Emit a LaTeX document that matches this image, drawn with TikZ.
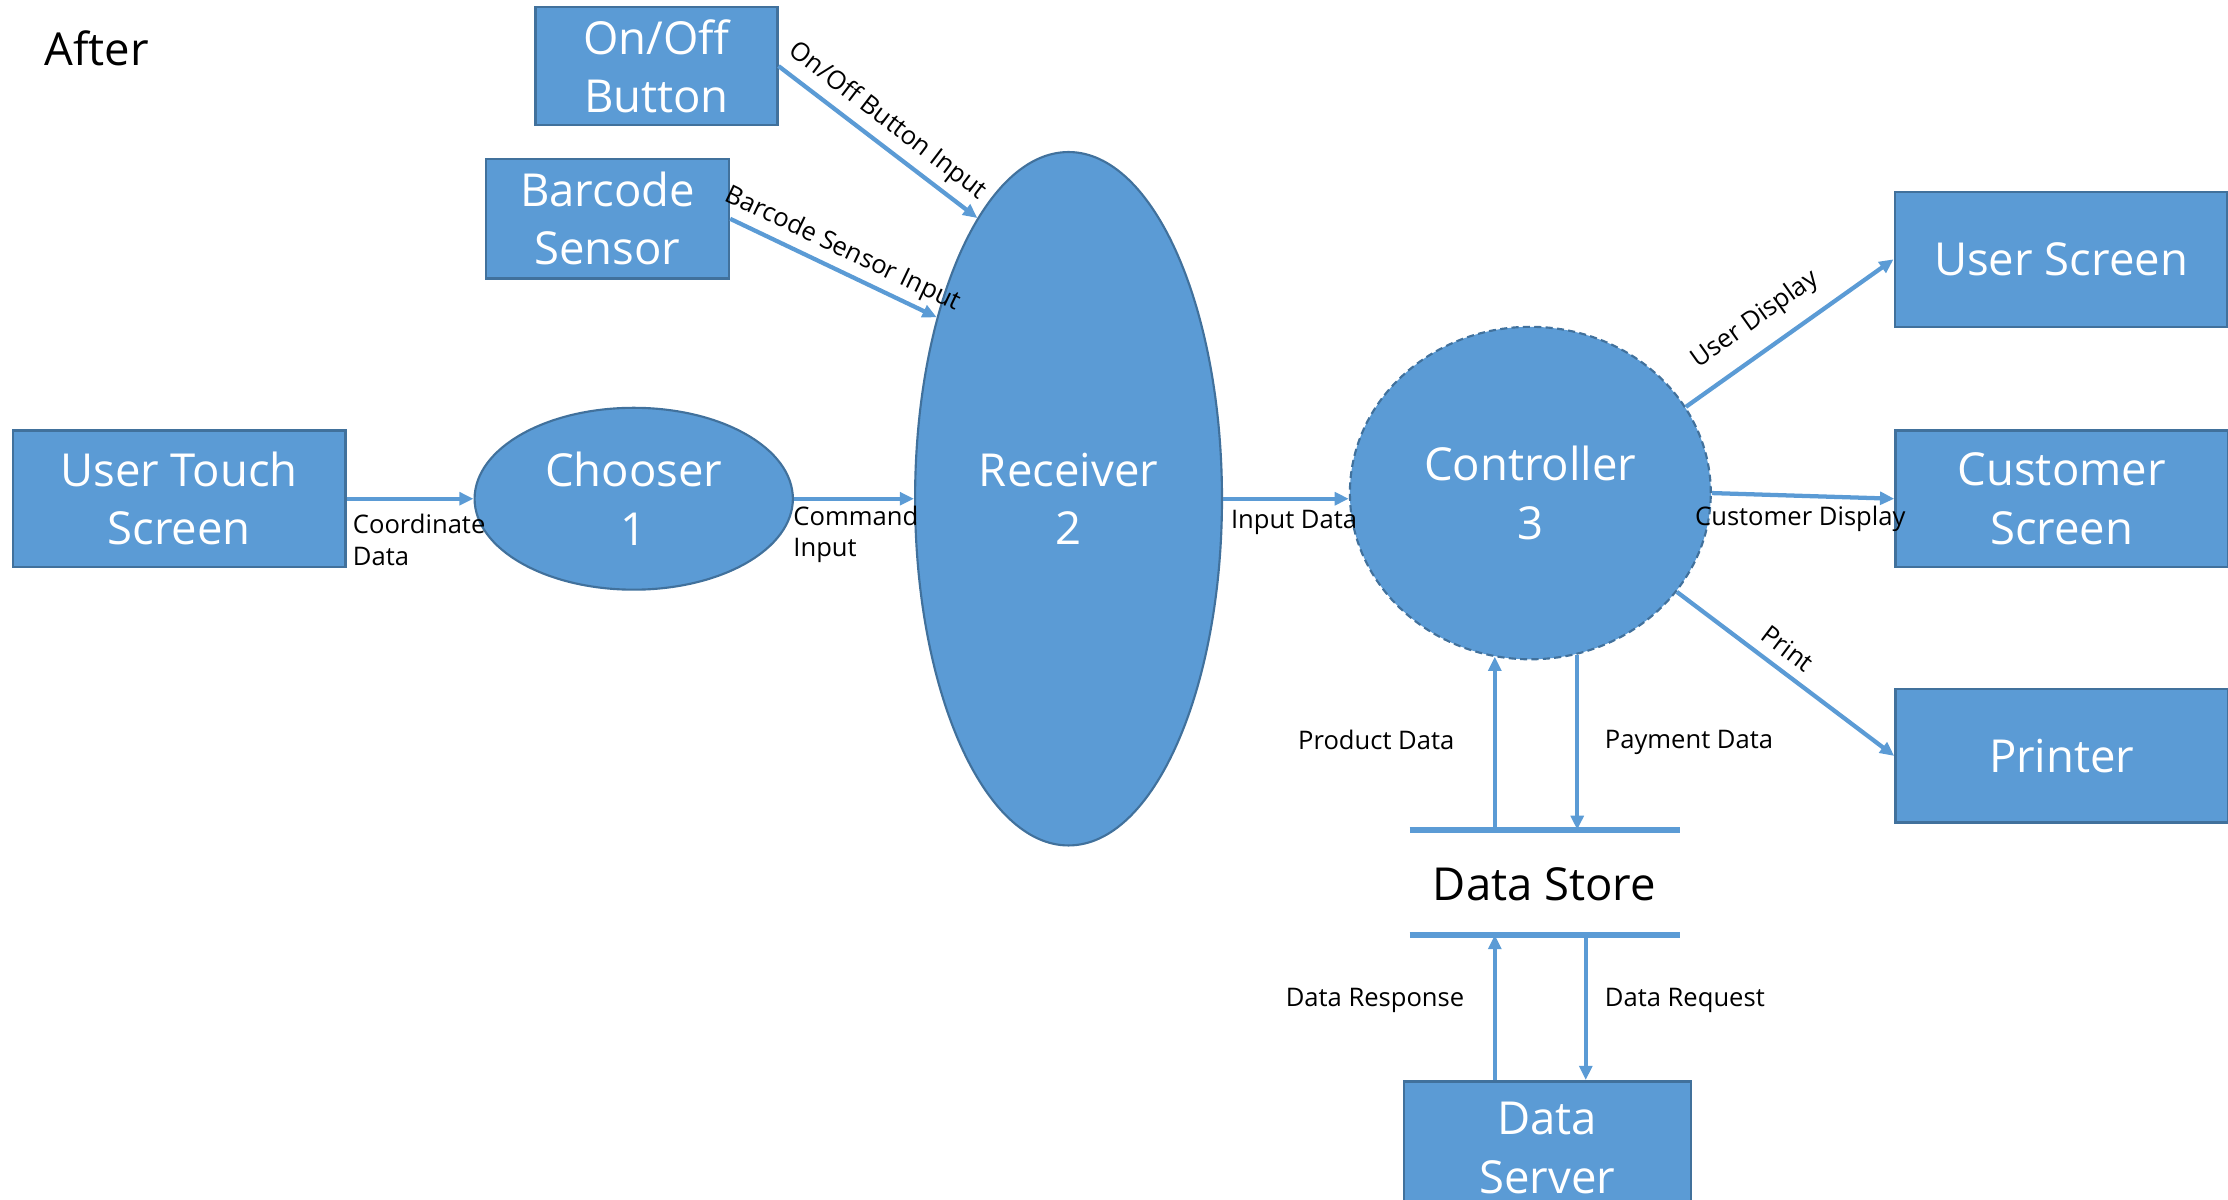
\documentclass[tikz,border=0pt]{standalone}
\usepackage{fontspec}
\setmainfont{Open Sans}
\usetikzlibrary{arrows.meta,shapes.geometric}
\definecolor{fillblue}{HTML}{5B9BD5}
\definecolor{edgeblue}{HTML}{41719C}
\definecolor{arrowblue}{HTML}{5B9BD5}
\begin{document}
\begin{tikzpicture}[x=0.5pt,y=-0.5pt,
  ent/.style={rectangle,draw=edgeblue,fill=fillblue,line width=0.9pt,text=white,
    font=\fontsize{16}{20.5}\selectfont,align=center,inner sep=0pt},
  proc/.style={ellipse,draw=edgeblue,fill=fillblue,line width=0.75pt,text=white,
    font=\fontsize{16}{20.5}\selectfont,align=center,inner sep=0pt},
  flow/.style={draw=arrowblue,line width=1.5pt,-{Triangle[length=5pt,width=4.5pt]}},
  storeline/.style={draw=arrowblue,line width=2pt},
  lbl/.style={font=\fontsize{9}{11}\selectfont,text=black,inner sep=1pt},
]
\useasboundingbox (0,0) rectangle (1568,844.5);
\clip (0,0) rectangle (1568,844.5);

\node[anchor=west,font=\fontsize{16}{20}\selectfont,inner sep=0pt] (after) at (31,34) {After};

\node[ent,minimum width=85pt,minimum height=41.5pt] (onoff) at (462,46.5) {On/Off\\Button};
\node[ent,minimum width=85.5pt,minimum height=42pt] (barcode) at (427.5,154) {Barcode\\Sensor};
\node[ent,minimum width=117pt,minimum height=48pt] (uts) at (126,351) {User Touch\\Screen};
\node[proc,minimum width=112pt,minimum height=64pt] (chooser) at (446,351) {Chooser\\1};
\node[proc,minimum width=108pt,minimum height=244pt] (recv) at (752,351) {Receiver\\2};
\node[proc,dash pattern=on 2.5pt off 1.5pt,minimum width=127pt,minimum height=117pt] (ctrl) at (1077,347) {Controller\\3};
\node[ent,minimum width=117pt,minimum height=47.5pt] (usrscr) at (1450.5,182.5) {User Screen};
\node[ent,minimum width=117pt,minimum height=48pt] (custscr) at (1451,351) {Customer\\Screen};
\node[ent,minimum width=117pt,minimum height=47pt] (printer) at (1451,532) {Printer};
\node[ent,minimum width=101pt,minimum height=47pt] (dsrv) at (1089,808) {Data\\Server};
\node[font=\fontsize{16}{20}\selectfont,inner sep=0pt] (dstore) at (1087,622) {Data Store};

% data store lines
\coordinate (dsTL) at (992,584);
\coordinate (dsTR) at (1182,584);
\coordinate (dsBL) at (992,658);
\coordinate (dsBR) at (1182,658);
\draw[storeline] (dsTL) -- (dsTR);
\draw[storeline] (dsBL) -- (dsBR);

% horizontal flows
\draw[flow] (uts.east) -- (chooser.west);
\node[lbl,align=left,anchor=west] (lcoord) at (246,380) {Coordinate\\Data};
\draw[flow] (chooser.east) -- (recv.west);
\node[lbl,align=left,anchor=west] (lcmd) at (556,376) {Command\\Input};
\draw[flow] (recv.east) -- (ctrl.west |- recv.east);
\node[lbl,anchor=west] (linput) at (864,368) {Input Data};

% inputs to receiver
\draw[flow] (onoff.east) -- node[lbl,sloped,above=1.5pt,pos=0.48] {On/Off Button Input} (recv.108.7);
\draw[flow] (barcode.east) -- node[lbl,sloped,above=1pt,pos=0.5] {Barcode Sensor Input} (recv.126.8);

% controller outputs
\draw[flow] (ctrl.29.5) -- node[lbl,sloped,above=4.5pt,pos=0.42] {User Display} (usrscr.west);
\draw[flow] (ctrl.east) -- (custscr.west);
\node[lbl] (lcust) at (1267,365) {Customer Display};
\draw[flow] (ctrl.-34) -- node[lbl,sloped,above=2.5pt,pos=0.45] {Print} (printer.west);

% data store flows
\coordinate (pdB) at (1052,584);
\draw[flow] (pdB) -- node[lbl,left=12.5pt,pos=0.52] {Product Data} (pdB |- ctrl.257.7);
\coordinate (pmB) at (1110,584);
\draw[flow] (pmB |- ctrl.286.3) -- node[lbl,right=8pt,pos=0.5] {Payment Data} (pmB);
\coordinate (drsT) at (1052,658);
\draw[flow] (drsT |- dsrv.north) -- node[lbl,left=9pt,pos=0.55] {Data Response} (drsT);
\coordinate (drqT) at (1116,658);
\draw[flow] (drqT) -- node[lbl,right=5pt,pos=0.45] {Data Request} (drqT |- dsrv.north);
\end{tikzpicture}
\end{document}
